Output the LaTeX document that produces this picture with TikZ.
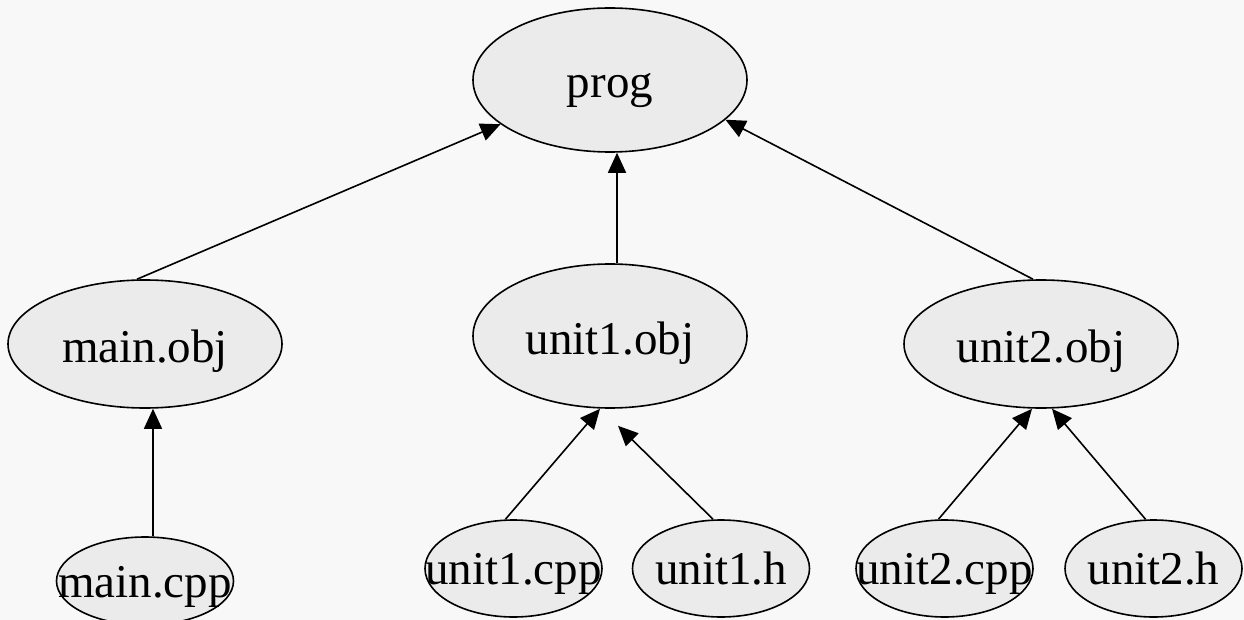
\documentclass[tikz,border=0pt]{standalone}
\usepackage{fontspec}
\setmainfont{Liberation Serif}
\usetikzlibrary{shapes.geometric,arrows.meta,calc}
\definecolor{bgc}{HTML}{F8F8F8}
\definecolor{fillc}{HTML}{EBEBEB}
\tikzset{
  ell/.style={ellipse, draw=black, fill=fillc, line width=1.6pt, inner sep=0pt},
  objbox/.style={ell, minimum width=274pt, minimum height=128pt},
  bigbox/.style={ell, minimum width=274pt, minimum height=144pt},
  leafbox/.style={ell, minimum width=177pt, minimum height=97pt},
  txt/.style={anchor=base, inner sep=0pt, font=\fontsize{47}{56}\selectfont},
  arr/.style={-{Triangle[length=20pt,width=18pt]}, line width=1.6pt, draw=black},
}
\begin{document}
\begin{tikzpicture}[x=1pt,y=-1pt]
\fill[bgc] (0,0) rectangle (1244,620);
\useasboundingbox (0,0) rectangle (1244,620);
% nodes
\node[bigbox] (prog) at (610,80) {};
\node[txt] (progt) at ($(prog)+(0,18)$) {prog};
\node[objbox] (mo) at (145,344) {};
\node[txt] (mot) at ($(mo)+(0,18)$) {main.obj};
\node[bigbox] (uo) at (610,336) {};
\node[txt] (uot) at ($(uo)+(0,18)$) {unit1.obj};
\node[objbox] (u2o) at (1041,344) {};
\node[txt] (u2ot) at ($(u2o)+(0,18)$) {unit2.obj};
\node[leafbox, minimum height=88pt] (mc) at (145,581) {};
\node[txt] (mct) at ($(mc)+(0,16)$) {main.cpp};
\node[leafbox] (u1c) at (513.5,568.5) {};
\node[txt] (u1ct) at ($(u1c)+(0,16)$) {unit1.cpp};
\node[leafbox] (u1h) at (721,568.5) {};
\node[txt] (u1ht) at ($(u1h)+(0,16)$) {unit1.h};
\node[leafbox] (u2c) at (944.5,568.5) {};
\node[txt] (u2ct) at ($(u2c)+(0,16)$) {unit2.cpp};
\node[leafbox] (u2h) at (1153.5,568.5) {};
\node[txt] (u2ht) at ($(u2h)+(0,16)$) {unit2.h};
% edges
\draw[arr] ([xshift=-8pt]mo.north) -- (prog.202);
\draw[arr] ([xshift=7pt]uo.north) -- ([xshift=7pt]prog.south);
\draw[arr] ([xshift=-8pt]u2o.north) -- (prog.-19);
\draw[arr] ([xshift=8pt]mc.north) -- ([xshift=8pt]mo.south);
\draw[arr] ([xshift=-8pt]u1c.north) -- ([xshift=-10pt]uo.south);
\coordinate (u1htip) at ($(uo.south)+(8,17)$);
\draw[arr] ([xshift=-8pt]u1h.north) -- (u1htip);
\draw[arr] ([xshift=-6pt]u2c.north) -- ([xshift=-9pt]u2o.south);
\draw[arr] ([xshift=-8pt]u2h.north) -- ([xshift=11pt]u2o.south);
\end{tikzpicture}
\end{document}
